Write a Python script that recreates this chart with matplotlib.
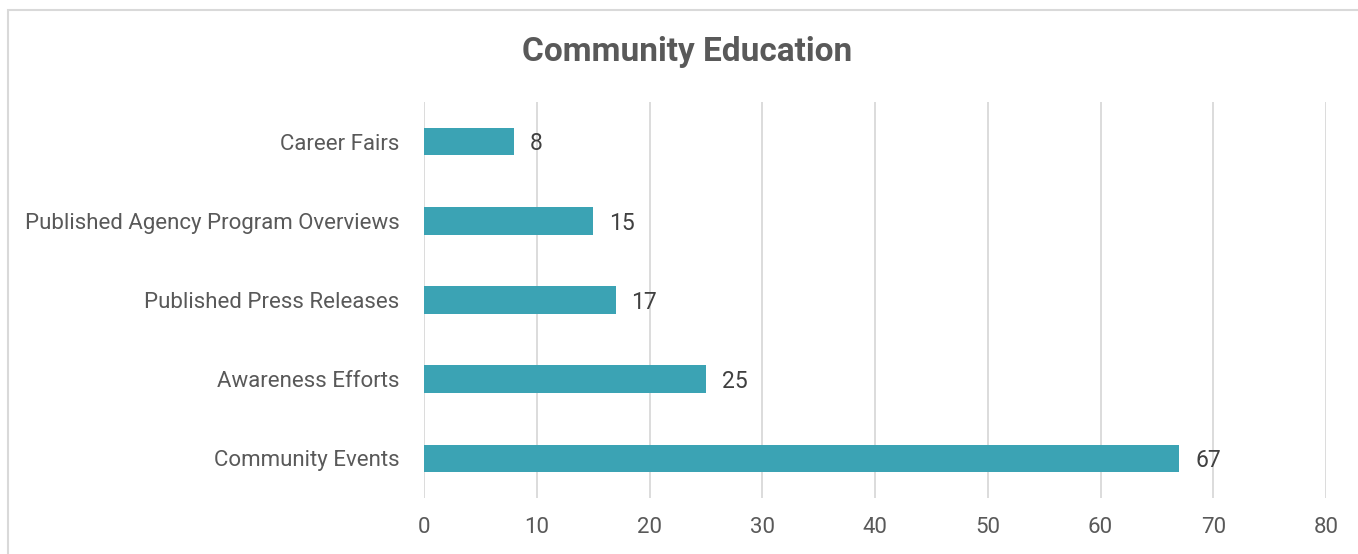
import matplotlib
matplotlib.use("Agg")
import matplotlib.pyplot as plt
from matplotlib.patches import Rectangle

categories = ["Career Fairs", "Published Agency Program Overviews",
              "Published Press Releases", "Awareness Efforts", "Community Events"]
counts = [8, 15, 17, 25, 67]
x_ticks = [0, 10, 20, 30, 40, 50, 60, 70, 80]

bar_color = "#3BA3B4"
text_color = "#595959"
grid_color = "#D9D9D9"

plt.rcParams["font.family"] = ["Roboto", "DejaVu Sans"]

fig = plt.figure(figsize=(13.58, 5.54), dpi=100)
fig.patches.append(Rectangle((8 / 1358, -0.1), 1.2, 1 - 10 / 554 + 0.1,
                             transform=fig.transFigure, fill=False,
                             edgecolor="#D9D9D9", linewidth=1.5))

ax = fig.add_axes([424 / 1358, 1 - 498 / 554, (1326 - 424) / 1358, (498 - 102) / 554])

# reversed so the first category sits on top
ypos = list(range(len(categories)))[::-1]
ax.barh(ypos, counts, height=0.35, color=bar_color, zorder=3)
for y, v in zip(ypos, counts):
    ax.text(v + 1.4, y - 0.03, str(v), va="center", ha="left",
            fontsize=16.5, color="#404040")

ax.set_xlim(0, 80)
ax.set_ylim(-0.5, len(categories) - 0.5)
ax.set_xticks(x_ticks)
ax.set_yticks(ypos)
ax.set_yticklabels(categories)
ax.tick_params(axis="both", length=0, labelsize=16, labelcolor=text_color)
ax.tick_params(axis="x", pad=14)
ax.tick_params(axis="y", pad=17.5)
ax.grid(axis="x", color=grid_color, linewidth=1.3, zorder=0)
for s in ax.spines.values():
    s.set_visible(False)

fig.text(687 / 1358, 1 - 52 / 554, "Community Education", ha="center", va="center",
         fontsize=24, fontweight="bold", color=text_color)

fig.savefig("out.png", dpi=100)
